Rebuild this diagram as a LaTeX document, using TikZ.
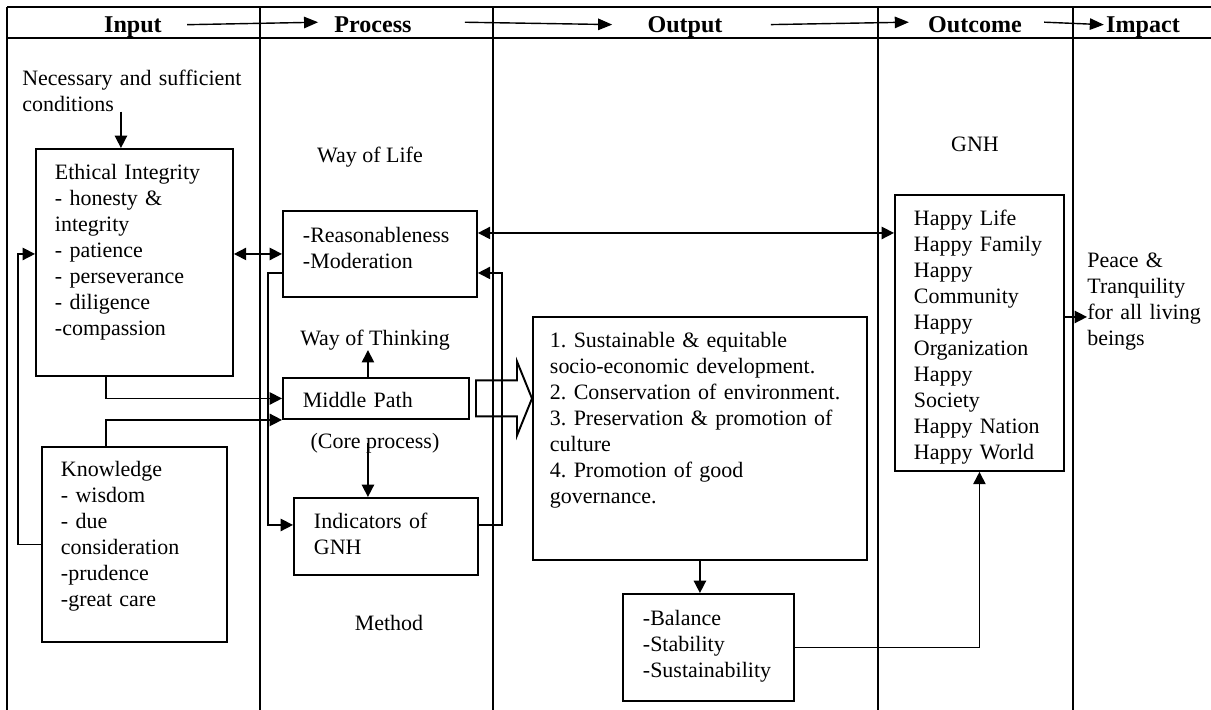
\documentclass[tikz,border=0pt]{standalone}
\usepackage{fontspec}
\setmainfont{Liberation Serif}
\usetikzlibrary{arrows.meta,calc}
\frenchspacing

\begin{document}
\begin{tikzpicture}[x=0.02cm, y=-0.02cm,
  every node/.style={font=\fontsize{12.5}{14.8}\selectfont, inner sep=0pt},
  grid/.style={line width=1.4pt},
  box/.style={rectangle, draw, line width=1.1pt, anchor=north west, align=left},
  head/.style={font=\fontsize{13.7}{16}\selectfont\bfseries, anchor=base},
  arr/.style={-{Triangle[length=7pt,width=7pt]}, line width=0.9pt},
  darr/.style={{Triangle[length=7pt,width=7pt]}-{Triangle[length=7pt,width=7pt]}, line width=0.9pt},
  harr/.style={-{Triangle[length=8pt,width=6.5pt]}, line width=0.8pt}]
\useasboundingbox (0,0) rectangle (1211,710);

\draw[grid] (7,7) -- (1211,7);
\draw[grid] (7,38) -- (1211,38);
\foreach \x in {7,260,493,878,1073} \draw[grid] (\x,7) -- (\x,710);

\node[head] (hin) at (133,32) {Input};
\node[head] (hpro) at (373,32) {Process};
\node[head] (hout) at (685,32) {Output};
\node[head] (hoc) at (975,32) {Outcome};
\node[head] (himp) at (1143,32) {Impact};
\draw[harr] ($(hin.east)+(25,-2)$) -- ($(hpro.west)+(-16,-2)$);
\draw[harr] ($(hpro.east)+(53,-2)$) -- ($(hout.west)+(-35,-2)$);
\draw[harr] ($(hout.east)+(48,-2)$) -- ($(hoc.west)+(-19,-2)$);
\draw[harr] ($(hoc.east)+(22,-2)$) -- ($(himp.west)+(-2,-2)$);

\node[anchor=base west, text width=4.5cm, align=left] (cond) at (22,85) {Necessary and sufficient\\conditions};
\node[box, text width=3.18cm, inner xsep=0.38cm, text height=0.62cm, text depth=3.92cm] (eth) at (35,148) {Ethical Integrity\\- honesty \&\\integrity\\- patience\\- perseverance\\- diligence\\-compassion};
\node[box, text width=2.94cm, inner xsep=0.38cm, text height=0.6cm, text depth=3.3cm] (kno) at (41,446) {Knowledge\\- wisdom\\- due\\consideration\\-prudence\\-great care};

\node[anchor=base] (wol) at (370,162) {Way of Life};
\node[box, text width=3.08cm, inner xsep=0.4cm, text height=0.64cm, text depth=1.08cm] (rea) at (282,210) {-Reasonableness\\-Moderation};
\node[anchor=base] (wot) at (375,345) {Way of Thinking};
\node[box, text width=2.92cm, inner xsep=0.4cm, text height=0.6cm, text depth=0.22cm] (mid) at (282,377) {Middle Path};
\node[anchor=base] (core) at (375,448) {(Core process)};
\node[box, text width=2.88cm, inner xsep=0.4cm, text height=0.62cm, text depth=0.92cm] (ind) at (293,497) {Indicators of\\GNH};
\node[anchor=base] (met) at (389,630) {Method};

\node[box, text width=6cm, inner xsep=0.34cm, text height=0.62cm, text depth=4.24cm] (out) at (532,316) {1. Sustainable \& equitable\\socio-economic development.\\2. Conservation of environment.\\3. Preservation \& promotion of\\culture\\4. Promotion of good\\governance.};
\node[box, text width=2.62cm, inner xsep=0.4cm, text height=0.64cm, text depth=1.5cm] (bal) at (622,593) {-Balance\\-Stability\\-Sustainability};

\node[anchor=base] (gnhl) at (975,151) {GNH};
\node[box, text width=2.62cm, inner xsep=0.38cm, text height=0.62cm, text depth=4.9cm] (gnh) at (894,194) {Happy Life\\Happy Family\\Happy\\Community\\Happy\\Organization\\Happy\\Society\\Happy Nation\\Happy World};
\node[anchor=base west, text width=2.36cm, align=left] (pea) at (1087,267) {Peace \&\\Tranquility\\for all living\\beings};

\draw[arr] ([xshift=-0.27cm]eth.north |- cond.south) -- ([xshift=-0.27cm]eth.north);
\draw[darr] (rea.west -| eth.east) -- (rea.west);
\draw[arr] (kno.west) -- ++(-23,0) |- (eth.west |- rea.west);
\draw[arr] ([xshift=-0.57cm]eth.south) |- (mid.west);
\draw[arr] ([xshift=-0.57cm]kno.north) |- (mid.south west);
\draw[arr] ([yshift=-0.38cm]rea.west) -- ++(-14,0) |- ([yshift=0.23cm]ind.west);
\draw[arr] ([xshift=-0.16cm]mid.north) -- ([xshift=-0.16cm]mid.north |- wot.south);
\draw[arr] ([xshift=-0.36cm]ind.north |- core.center) -- ([xshift=-0.36cm]ind.north);
\draw[arr] ([yshift=0.23cm]ind.east) -- ++(23,0) |- ([yshift=-0.38cm]rea.east);
\draw[darr] ([yshift=0.42cm]rea.east) -- ([yshift=0.42cm]rea.east -| gnh.west);
\coordinate (tip) at (out.west |- mid.east);
\draw[line width=1.1pt] ($(tip)+(-56,-18)$) -- ($(tip)+(-15,-18)$) -- ($(tip)+(-15,-37)$) -- (tip)
  -- ($(tip)+(-15,37)$) -- ($(tip)+(-15,18)$) -- ($(tip)+(-56,18)$) -- cycle;
\draw[arr] (out.south) -- (out.south |- bal.north);
\draw[arr] (bal.east) -| (gnh.south);
\draw[arr] ([yshift=0.32cm]gnh.east) -- ([yshift=0.32cm]gnh.east -| pea.west);
\end{tikzpicture}
\end{document}
